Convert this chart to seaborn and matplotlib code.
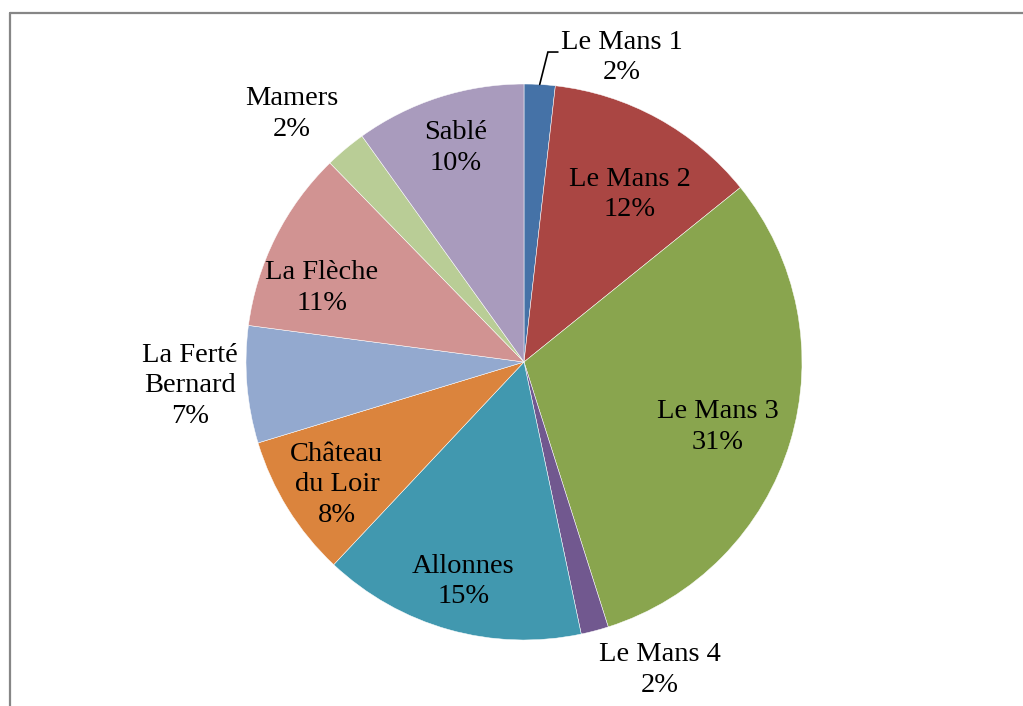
import matplotlib
matplotlib.use("Agg")
import matplotlib.pyplot as plt
from matplotlib.lines import Line2D
import seaborn as sns
import numpy as np

# Données (parts estimées d'après le graphique)
secteurs = ["Le Mans 1", "Le Mans 2", "Le Mans 3", "Le Mans 4", "Allonnes",
            "Château\ndu Loir", "La Ferté\nBernard", "La Flèche", "Mamers", "Sablé"]
parts = [1.8, 12.4, 30.9, 1.6, 15.3, 8.3, 6.8, 10.6, 2.4, 9.9]
couleurs = ["#4572A7", "#AA4643", "#89A54E", "#71588F", "#4198AF",
            "#DB843D", "#93A9CF", "#D19392", "#B9CD96", "#A99BBD"]

# Position des étiquettes (en rayons du camembert)
pos_etiquettes = [(0.353, 1.094), (0.381, 0.601), (0.698, -0.234), (0.489, -1.108),
                  (-0.219, -0.791), (-0.673, -0.442), (-1.201, -0.086),
                  (-0.727, 0.266), (-0.836, 0.892), (-0.245, 0.770)]

sns.set_theme(style="white")
plt.rcParams["font.family"] = ["Liberation Serif", "DejaVu Serif"]

fig = plt.figure(figsize=(10.23, 7.06), dpi=100)
ax = fig.add_axes([0, 0, 1, 1])

wedges, _ = ax.pie(parts, colors=sns.color_palette(couleurs), startangle=90,
                   counterclock=False, radius=1,
                   wedgeprops=dict(edgecolor="white", linewidth=0.35))

for nom, p, (x, y) in zip(secteurs, parts, pos_etiquettes):
    ax.text(x, y, f"{nom}\n{round(p)}%", ha="center", va="center",
            fontsize=20.5, linespacing=1.27, color="black")

# Trait de rappel pour Le Mans 1
w = wedges[0]
mid = np.deg2rad((w.theta1 + w.theta2) / 2)
ax.plot([np.cos(mid), 0.086, 0.122], [np.sin(mid), 1.115, 1.115],
        color="black", linewidth=1.2, solid_joinstyle="miter")

ax.set_xlim(-524 / 278, (1023 - 524) / 278)
ax.set_ylim(-344 / 278, 362 / 278)
ax.set_aspect("auto")
ax.axis("off")

# Cadre gris (haut et gauche visibles)
fig.add_artist(Line2D([9.5 / 1023, 1], [1 - 12.5 / 706] * 2,
                      transform=fig.transFigure, color="#868686", linewidth=1.6))
fig.add_artist(Line2D([9.5 / 1023] * 2, [0, 1 - 12.5 / 706],
                      transform=fig.transFigure, color="#868686", linewidth=1.6))

fig.savefig("out.png", dpi=100)
